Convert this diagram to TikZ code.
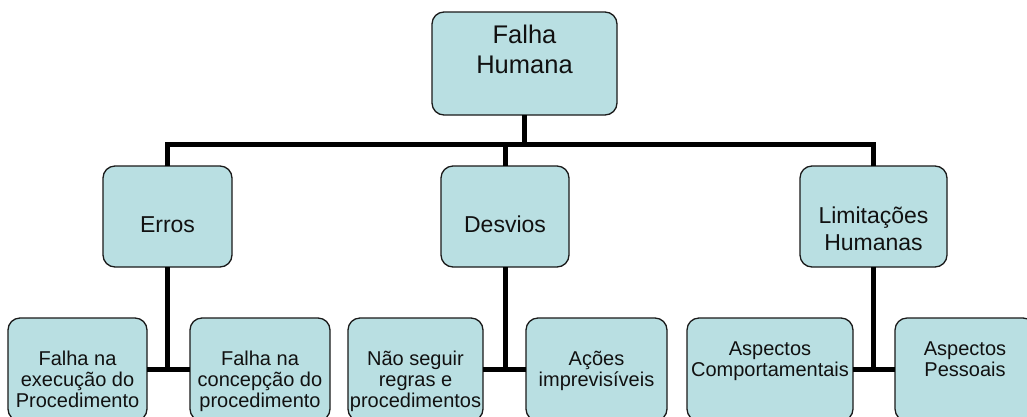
\documentclass[tikz,border=0pt]{standalone}
\usepackage{fontspec}
\setmainfont{Liberation Sans}
\definecolor{boxfill}{HTML}{B9DFE2}
\definecolor{boxline}{HTML}{1A1A1A}
\definecolor{textcol}{HTML}{111111}
\newcommand{\mltext}[1]{\begin{tabular}[t]{@{}c@{}}#1\end{tabular}}
\begin{document}
\begin{tikzpicture}[x=1pt,y=-1pt,
  box/.style={draw=boxline, fill=boxfill, line width=1.3pt, rounded corners=12pt,
              inner sep=0pt, outer sep=0pt},
  conn/.style={line width=5pt, draw=black, line join=miter},
  txt/.style={anchor=base, inner sep=0pt, outer sep=0pt, text=textcol},
  bigtxt/.style={txt, font=\fontsize{25.5}{30}\selectfont},
  midtxt/.style={txt, font=\fontsize{23}{27}\selectfont},
  smalltxt/.style={txt, font=\fontsize{20}{21}\selectfont}]
\useasboundingbox (0,0) rectangle (1027,416);
\clip (0,0) rectangle (1027,416);
\fill[white] (0,0) rectangle (1027,416);

% boxes
\node[box, minimum width=185pt, minimum height=103pt] (top) at (524.5,63.5) {};
\node[box, minimum width=129pt, minimum height=101pt] (erros) at (167.5,216.5) {};
\node[box, minimum width=128pt, minimum height=101pt] (desv) at (505,216.5) {};
\node[box, minimum width=147pt, minimum height=101pt] (lim) at (873.5,216.5) {};
\node[box, minimum width=139pt, minimum height=103pt] (b1) at (77.5,369.5) {};
\node[box, minimum width=140pt, minimum height=103pt] (b2) at (260,369.5) {};
\node[box, minimum width=135pt, minimum height=103pt] (b3) at (415.5,369.5) {};
\node[box, minimum width=141pt, minimum height=103pt] (b4) at (596.5,369.5) {};
\node[box, minimum width=166pt, minimum height=103pt] (b5) at (770,369.5) {};
\node[box, minimum width=140pt, minimum height=103pt] (b6) at (965,369.5) {};

% texts
\node[bigtxt] (ttop) at (524.5,43) {\mltext{Falha\\Humana}};
\node[midtxt] (terros) at (167.5,232) {Erros};
\node[midtxt] (tdesv) at (505,232) {Desvios};
\node[midtxt] (tlim) at (873.5,223) {\mltext{Limitações\\Humanas}};
\node[smalltxt] (tb1) at (77.5,365) {\mltext{Falha na\\execução do\\Procedimento}};
\node[smalltxt] (tb2) at (260,365) {\mltext{Falha na\\concepção do\\procedimento}};
\node[smalltxt] (tb3) at (415.5,365) {\mltext{Não seguir\\regras e\\procedimentos}};
\node[smalltxt] (tb4) at (596.5,365) {\mltext{Ações\\imprevisíveis}};
\node[smalltxt] (tb5) at (770,355) {\mltext{Aspectos\\Comportamentais}};
\node[smalltxt] (tb6) at (965,355) {\mltext{Aspectos\\Pessoais}};

% connectors
\coordinate (bar) at (524.5,144);
\draw[conn] (top.south) -- (bar);
\draw[conn] (erros.north) |- (bar);
\draw[conn] (lim.north) |- (bar);
\draw[conn] (desv.north) -- (desv.north |- bar);

\draw[conn] (erros.south) -- (erros.south |- b1.east);
\draw[conn] (b1.east) -- (b2.west);
\draw[conn] (desv.south) -- (desv.south |- b3.east);
\draw[conn] (b3.east) -- (b4.west);
\draw[conn] (lim.south) -- (lim.south |- b5.east);
\draw[conn] (b5.east) -- (b6.west);
\end{tikzpicture}
\end{document}
